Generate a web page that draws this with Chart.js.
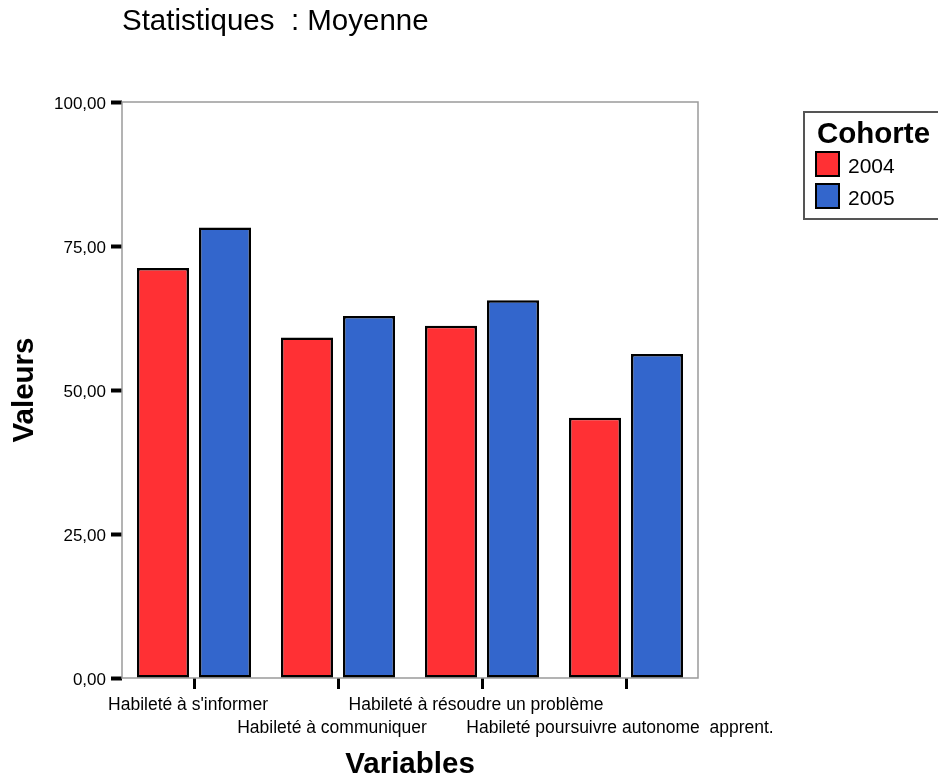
<!DOCTYPE html>
<html>
<head>
<meta charset="utf-8">
<script src="https://cdn.jsdelivr.net/npm/chart.js@4"></script>
<style>
  body { margin: 0; background: #fff; }
</style>
</head>
<body>
<canvas id="myChart" width="938" height="777"></canvas>
<script>
var categories = [
    ["Habileté à s'informer"],
    ['', 'Habileté à communiquer'],
    ['Habileté à résoudre un problème'],
    ['', 'Habileté poursuivre autonome  apprent.']
];
var cohortes = ['2004', '2005'];
var values2004 = [71.2, 59.1, 61.15, 45.2];
var values2005 = [78.2, 62.85, 65.6, 56.25];
var yTicks = [0, 25, 50, 75, 100];

var font = '"Liberation Sans", Arial, sans-serif';
var red = '#ff3034';
var blue = '#3366cc';

var textPlugin = {
    id: 'textPlugin',
    beforeDatasetsDraw: function(chart){
        var a = chart.chartArea;
        var c = chart.ctx;
        c.save();
        c.strokeStyle = '#9a9a9a';
        c.lineWidth = 1.5;
        c.strokeRect(a.left, a.top, a.right - a.left, a.bottom - a.top);
        c.restore();
    },
    afterDraw: function(chart){
        var c = chart.ctx;
        c.save();
        c.fillStyle = '#000';
        c.textBaseline = 'alphabetic';

        // titre
        c.font = '29.5px ' + font;
        c.textAlign = 'left';
        c.fillText('Statistiques  : Moyenne', 122, 30);

        // titres des axes
        c.font = 'bold 29.5px ' + font;
        c.textAlign = 'center';
        c.fillText('Variables', 410, 773);
        c.save();
        c.translate(33, 390);
        c.rotate(-Math.PI / 2);
        c.fillText('Valeurs', 0, 0);
        c.restore();

        // légende
        c.strokeStyle = '#555';
        c.lineWidth = 2;
        c.strokeRect(804, 112, 200, 107);
        c.textAlign = 'left';
        c.font = 'bold 29.5px ' + font;
        c.fillText('Cohorte', 817, 143);
        var colors = [red, blue];
        c.font = '21px ' + font;
        for(var i = 0; i < cohortes.length; i++){
            var y = 152 + i * 32;
            c.fillStyle = colors[i];
            c.fillRect(816, y, 23, 24);
            c.strokeStyle = '#000';
            c.strokeRect(816, y, 23, 24);
            c.fillStyle = '#000';
            c.fillText(cohortes[i], 848, y + 21);
        }
        c.restore();
    }
};

var ctx = document.getElementById('myChart');
var myChart = new Chart(ctx, {
    type: 'bar',
    data: {
        labels: categories,
        datasets: [{
            label: cohortes[0],
            data: values2004,
            backgroundColor: red,
            borderColor: '#000',
            borderWidth: 2.5,
            borderSkipped: false
        }, {
            label: cohortes[1],
            data: values2005,
            backgroundColor: blue,
            borderColor: '#000',
            borderWidth: 2.5,
            borderSkipped: false
        }]
    },
    options: {
        responsive: false,
        animation: false,
        categoryPercentage: 124 / 144,
        barPercentage: 52 / 62,
        layout: { padding: { top: 102, right: 240, left: 0, bottom: 0 } },
        plugins: {
            legend: { display: false },
            tooltip: { enabled: false }
        },
        scales: {
            x: {
                afterFit: function(scale){ scale.height = 99; },
                border: { display: false },
                grid: {
                    offset: false,
                    drawOnChartArea: false,
                    tickLength: 11,
                    tickWidth: 3,
                    tickColor: '#000'
                },
                ticks: {
                    autoSkip: false,
                    maxRotation: 0,
                    minRotation: 0,
                    padding: 5,
                    labelOffset: -6,
                    color: '#000',
                    font: { family: font, size: 17.5, lineHeight: 1.3 }
                }
            },
            y: {
                min: 0,
                max: 100,
                afterFit: function(scale){ scale.width = 122; },
                afterBuildTicks: function(scale){
                    scale.ticks = yTicks.map(function(v){ return { value: v }; });
                },
                border: { display: false },
                grid: {
                    drawOnChartArea: false,
                    tickLength: 11,
                    tickWidth: 4,
                    tickColor: '#000'
                },
                ticks: {
                    padding: 5,
                    labelOffset: 2,
                    color: '#000',
                    font: { family: font, size: 17 },
                    callback: function(v){ return v.toFixed(2).replace('.', ','); }
                }
            }
        }
    },
    plugins: [textPlugin]
});
</script>
</body>
</html>
